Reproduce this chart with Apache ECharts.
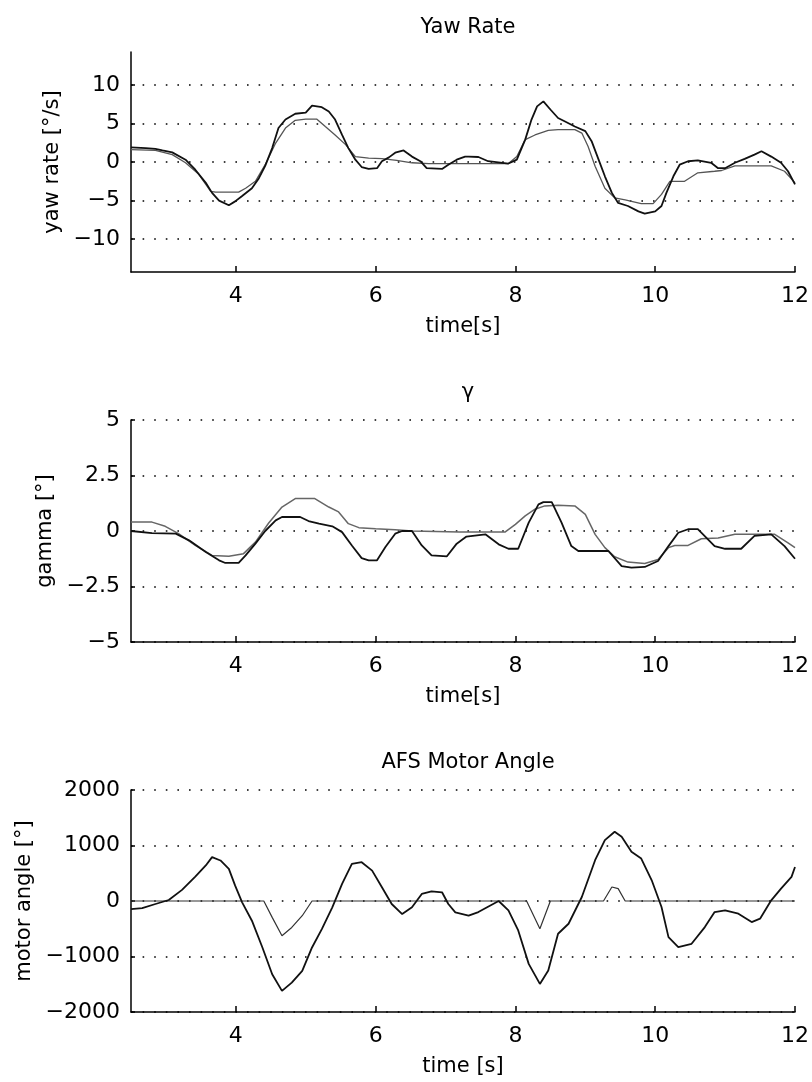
<!DOCTYPE html>
<html>
<head>
<meta charset="utf-8">
<script src="https://cdn.jsdelivr.net/npm/echarts@6/dist/echarts.min.js"></script>
<style>
  html, body { margin: 0; padding: 0; background: #fff; }
  #chart { width: 812px; height: 1082px; }
</style>
</head>
<body>
<div id="chart"></div>
<script>
// Yaw rate panel
const yawMeasT = [2.5, 2.71, 2.85, 2.95, 3.09, 3.28, 3.42, 3.57, 3.66, 3.76, 3.9, 3.99, 4.09, 4.23, 4.33, 4.42, 4.52, 4.61, 4.71, 4.85, 5.0, 5.09, 5.23, 5.33, 5.42, 5.52, 5.61, 5.71, 5.8, 5.9, 6.02, 6.09, 6.19, 6.28, 6.4, 6.52, 6.64, 6.73, 6.95, 7.04, 7.16, 7.28, 7.33, 7.47, 7.61, 7.9, 8.02, 8.14, 8.23, 8.31, 8.4, 8.5, 8.61, 8.71, 8.85, 9.0, 9.09, 9.19, 9.28, 9.38, 9.47, 9.61, 9.76, 9.85, 10.0, 10.09, 10.16, 10.26, 10.35, 10.47, 10.61, 10.8, 10.9, 11.0, 11.14, 11.28, 11.42, 11.52, 11.66, 11.8, 11.9, 12.0];
const yawMeasV = [1.9, 1.8, 1.7, 1.5, 1.25, 0.3, -1.0, -2.7, -4.0, -5.0, -5.6, -5.1, -4.4, -3.4, -2.1, -0.5, 1.8, 4.4, 5.5, 6.25, 6.4, 7.3, 7.1, 6.55, 5.5, 3.5, 1.8, 0.3, -0.65, -0.9, -0.8, 0.1, 0.6, 1.2, 1.5, 0.7, 0.1, -0.8, -0.9, -0.35, 0.3, 0.7, 0.7, 0.65, 0.1, -0.2, 0.3, 2.9, 5.5, 7.2, 7.85, 6.8, 5.7, 5.25, 4.6, 4.0, 2.7, 0.3, -1.85, -4.0, -5.3, -5.7, -6.4, -6.7, -6.4, -5.7, -4.0, -1.85, -0.35, 0.1, 0.2, -0.1, -0.8, -0.8, -0.1, 0.4, 0.95, 1.4, 0.7, -0.1, -1.2, -2.9];
const yawRefT = [2.5, 2.85, 3.09, 3.28, 3.47, 3.64, 3.71, 4.04, 4.14, 4.28, 4.42, 4.57, 4.71, 4.85, 5.0, 5.16, 5.28, 5.42, 5.57, 5.71, 5.9, 6.09, 6.3, 6.52, 6.76, 7.66, 7.9, 8.02, 8.14, 8.28, 8.47, 8.61, 8.85, 8.95, 9.04, 9.14, 9.28, 9.42, 9.57, 9.8, 9.97, 10.09, 10.21, 10.42, 10.61, 10.85, 10.95, 11.14, 11.33, 11.66, 11.85, 12.0];
const yawRefV = [1.6, 1.5, 0.95, -0.1, -1.6, -3.8, -3.9, -3.9, -3.4, -2.5, -0.35, 2.45, 4.4, 5.4, 5.55, 5.55, 4.6, 3.5, 2.25, 0.7, 0.5, 0.45, 0.2, -0.1, -0.2, -0.2, -0.2, 0.7, 2.9, 3.5, 4.1, 4.2, 4.2, 3.75, 2.0, -0.55, -3.4, -4.65, -4.9, -5.4, -5.4, -4.2, -2.5, -2.5, -1.4, -1.2, -1.1, -0.5, -0.5, -0.5, -1.2, -2.7];

// Gamma panel
const gamBlackT = [2.5, 2.8, 3.14, 3.33, 3.57, 3.76, 3.85, 4.04, 4.14, 4.28, 4.42, 4.57, 4.66, 4.92, 5.04, 5.19, 5.38, 5.52, 5.66, 5.8, 5.9, 6.02, 6.14, 6.28, 6.38, 6.52, 6.66, 6.8, 7.02, 7.16, 7.3, 7.57, 7.76, 7.9, 8.04, 8.19, 8.33, 8.4, 8.52, 8.66, 8.8, 8.9, 9.33, 9.52, 9.66, 9.85, 10.04, 10.19, 10.33, 10.47, 10.61, 10.85, 11.0, 11.23, 11.42, 11.66, 11.85, 12.0];
const gamBlackV = [0, -0.1, -0.12, -0.42, -0.95, -1.32, -1.44, -1.44, -1.1, -0.57, 0, 0.48, 0.63, 0.63, 0.45, 0.33, 0.21, -0.05, -0.65, -1.22, -1.32, -1.32, -0.72, -0.12, 0, 0, -0.65, -1.1, -1.14, -0.57, -0.25, -0.15, -0.6, -0.8, -0.8, 0.38, 1.2, 1.3, 1.3, 0.38, -0.68, -0.9, -0.9, -1.58, -1.65, -1.62, -1.35, -0.68, -0.08, 0.08, 0.08, -0.68, -0.8, -0.8, -0.22, -0.15, -0.68, -1.25];
const gamGreyT = [2.5, 2.8, 2.99, 3.18, 3.42, 3.66, 3.9, 4.11, 4.28, 4.47, 4.66, 4.85, 5.13, 5.33, 5.47, 5.61, 5.76, 6.0, 6.28, 6.52, 7.2, 7.85, 8.0, 8.14, 8.28, 8.42, 8.61, 8.85, 9.0, 9.14, 9.28, 9.42, 9.61, 9.85, 10.04, 10.19, 10.28, 10.47, 10.66, 10.9, 11.14, 11.38, 11.71, 11.9, 12.0];
const gamGreyV = [0.4, 0.4, 0.21, -0.12, -0.65, -1.1, -1.14, -1.02, -0.5, 0.36, 1.08, 1.46, 1.46, 1.08, 0.86, 0.33, 0.15, 0.1, 0.06, 0, -0.05, -0.05, 0.3, 0.68, 0.98, 1.13, 1.16, 1.13, 0.75, -0.15, -0.75, -1.16, -1.4, -1.46, -1.28, -0.75, -0.65, -0.65, -0.35, -0.32, -0.15, -0.15, -0.15, -0.53, -0.75];

// AFS motor angle panel
const motorT = [2.5, 2.66, 2.85, 3.04, 3.23, 3.42, 3.57, 3.66, 3.78, 3.9, 3.99, 4.09, 4.23, 4.38, 4.52, 4.66, 4.8, 4.95, 5.09, 5.23, 5.38, 5.52, 5.66, 5.8, 5.95, 6.09, 6.23, 6.38, 6.52, 6.66, 6.8, 6.95, 7.04, 7.14, 7.33, 7.47, 7.76, 7.9, 8.04, 8.19, 8.35, 8.47, 8.61, 8.76, 8.95, 9.14, 9.28, 9.42, 9.52, 9.66, 9.8, 9.95, 10.09, 10.19, 10.33, 10.52, 10.71, 10.85, 11.0, 11.19, 11.38, 11.5, 11.66, 11.8, 11.95, 12.0];
const motorV = [-145, -127, -54, 18, 200, 440, 640, 790, 730, 580, 277, -24, -355, -837, -1319, -1620, -1470, -1259, -837, -506, -114, 307, 669, 699, 548, 247, -54, -235, -114, 127, 175, 157, -54, -205, -265, -199, 0, -169, -530, -1133, -1494, -1253, -590, -410, 72, 735, 1096, 1247, 1157, 886, 765, 373, -108, -651, -831, -771, -470, -199, -169, -229, -380, -319, 12, 223, 434, 614];
const motorClipT = [2.5, 4.4, 4.52, 4.66, 4.8, 4.95, 5.09, 8.16, 8.35, 8.5, 9.26, 9.38, 9.47, 9.57, 12.0];
const motorClipV = [0, 0, -295, -626, -476, -265, 0, 0, -500, 0, 0, 253, 223, 0, 0];

const timeTicks = [4, 6, 8, 10, 12];
const yawTicks = [-10, -5, 0, 5, 10];

const zip = (t, v) => t.map((x, i) => [x, v[i]]);
const minusFmt = (value) => String(value).replace('-', '\u2212');

const fontFamily = 'DejaVu Sans, sans-serif';
const labelText = { color: '#000', fontFamily, fontSize: 21 };
const tickText = { ...labelText, fontSize: 22 };
const axisLine = { show: true, onZero: false, lineStyle: { color: '#000', width: 1.5 } };
const insideTick = { show: true, inside: true, length: 6, lineStyle: { color: '#000', width: 1.5 } };
const dottedSplit = { show: true, lineStyle: { color: '#000', width: 1.6, type: [1.6, 10] } };

const grids = [
  { left: 131, top: 52, width: 665, height: 220 },
  { left: 131, top: 420, width: 665, height: 222 },
  { left: 131, top: 790, width: 665, height: 222 },
];

function timeAxis(idx, name, nameGap) {
  return {
    type: 'value',
    gridIndex: idx,
    min: 2.5,
    max: 12,
    name,
    nameLocation: 'middle',
    nameGap,
    nameTextStyle: { ...labelText },
    axisLine,
    axisTick: { ...insideTick, customValues: timeTicks },
    axisLabel: { ...tickText, margin: 13, customValues: timeTicks },
    splitLine: { show: false },
  };
}

function valueAxis(idx, name, nameGap, extra) {
  return {
    type: 'value',
    gridIndex: idx,
    name,
    nameLocation: 'middle',
    nameRotate: 90,
    nameGap,
    nameTextStyle: { ...labelText },
    axisLine,
    axisTick: { ...insideTick, length: 4 },
    axisLabel: { ...tickText, margin: 11, formatter: minusFmt },
    splitLine: dottedSplit,
    ...extra,
  };
}

function lineSeries(idx, data, color, width, z) {
  return {
    type: 'line',
    xAxisIndex: idx,
    yAxisIndex: idx,
    data,
    showSymbol: false,
    symbol: 'none',
    z,
    lineStyle: { color, width },
  };
}

const chart = echarts.init(document.getElementById('chart'));
chart.setOption({
  animation: false,
  backgroundColor: '#fff',
  title: [
    { text: 'Yaw Rate', left: 463, top: 12, textAlign: 'center', textStyle: { ...labelText, fontWeight: 'normal' } },
    { text: '\u03b3', left: 463, top: 377, textAlign: 'center', textStyle: { ...labelText, fontWeight: 'normal' } },
    { text: 'AFS Motor Angle', left: 463, top: 747, textAlign: 'center', textStyle: { ...labelText, fontWeight: 'normal' } },
  ],
  grid: grids,
  xAxis: [
    timeAxis(0, 'time[s]', 44),
    timeAxis(1, 'time[s]', 44),
    timeAxis(2, 'time [s]', 44),
  ],
  yAxis: [
    valueAxis(0, 'yaw rate [\u00b0/s]', 62, {
      min: -14.25, max: 14.25,
      axisTick: { ...insideTick, length: 4, customValues: yawTicks },
      axisLabel: { ...tickText, margin: 11, formatter: minusFmt, customValues: yawTicks },
    }),
    valueAxis(1, 'gamma [\u00b0]', 68, { min: -5, max: 5, interval: 2.5 }),
    valueAxis(2, 'motor angle [\u00b0]', 92, { min: -2000, max: 2000, interval: 1000 }),
  ],
  series: [
    lineSeries(0, zip(yawRefT, yawRefV), '#555', 1.3, 2),
    lineSeries(0, zip(yawMeasT, yawMeasV), '#111', 1.8, 3),
    lineSeries(1, zip(gamGreyT, gamGreyV), '#666', 1.5, 2),
    lineSeries(1, zip(gamBlackT, gamBlackV), '#111', 1.8, 3),
    lineSeries(2, zip(motorClipT, motorClipV), '#333', 1.2, 2),
    lineSeries(2, zip(motorT, motorV), '#111', 1.8, 3),
  ],
});
</script>
</body>
</html>
